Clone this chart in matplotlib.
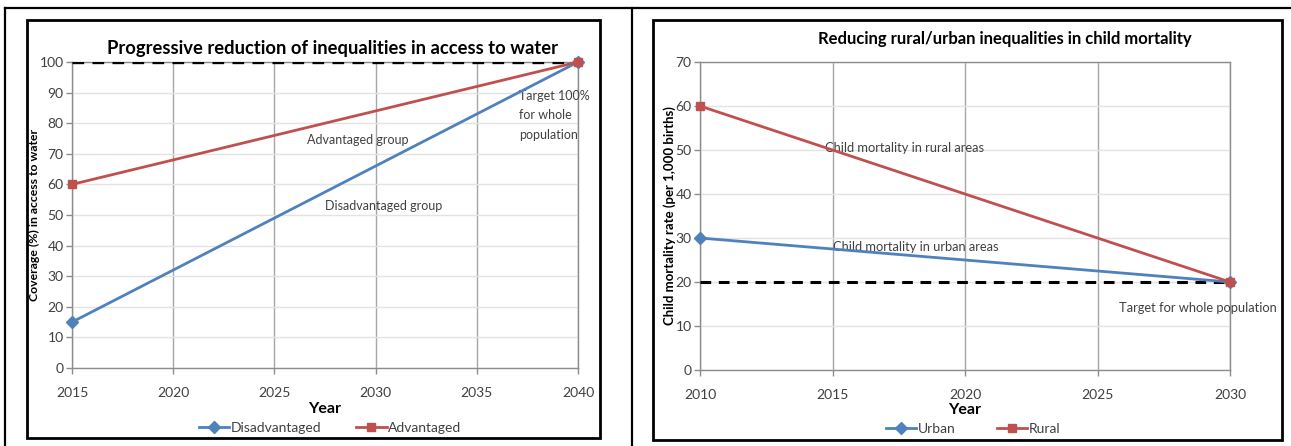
import matplotlib.pyplot as plt
from matplotlib.lines import Line2D
from matplotlib.patches import Rectangle
import numpy as np

plt.rcParams['font.family'] = ['Lato', 'DejaVu Sans']

# Left chart data
water_years = [2015, 2040]
disadvantaged = [15, 100]
advantaged = [60, 100]
water_target = 100
water_xticks = [2015, 2020, 2025, 2030, 2035, 2040]

# Right chart data
mort_years = [2010, 2030]
urban = [30, 20]
rural = [60, 20]
mort_target = 20
mort_xticks = [2010, 2015, 2020, 2025, 2030]

BLUE = '#4F81BD'
RED = '#C0504D'
W, H = 1291, 446

fig = plt.figure(figsize=(W / 100, H / 100), dpi=100)


def px_axes(x0, y0, x1, y1):
    # pixel box (top-left origin) -> figure axes
    return fig.add_axes([x0 / W, 1 - y1 / H, (x1 - x0) / W, (y1 - y0) / H])


def fig_line(xs, ys, lw=1.6):
    fig.add_artist(Line2D([x / W for x in xs], [1 - y / H for y in ys],
                          color='black', lw=lw, transform=fig.transFigure))


def fig_box(x0, y0, x1, y1, lw=2.0):
    fig.add_artist(Rectangle((x0 / W, 1 - y1 / H), (x1 - x0) / W, (y1 - y0) / H,
                             fill=False, ec='black', lw=lw,
                             transform=fig.transFigure))


# outer table lines
fig_line([5, 1291], [8, 8])
fig_line([5, 5], [8, 446])
fig_line([632, 632], [8, 446])

# inner chart boxes
fig_box(27, 20, 600, 438)
fig_box(653, 20, 1282, 440)


def style_axes(ax, xticks, ymax):
    ax.set_xlim(xticks[0], xticks[-1])
    ax.set_ylim(0, ymax)
    ax.set_xticks(xticks)
    ax.set_yticks(np.arange(0, ymax + 1, 10))
    ax.grid(axis='y', color='#e3e3e3', lw=1.0)
    ax.grid(axis='x', color='#a6a6a6', lw=1.0)
    ax.set_axisbelow(True)
    for s in ax.spines.values():
        s.set_color('#8c8c8c')
        s.set_linewidth(1.0)
    ax.tick_params(axis='both', colors='#8c8c8c', labelcolor='#404040',
                   labelsize=10, length=4, width=1.0, direction='out')
    ax.tick_params(axis='x', pad=10)
    ax.tick_params(axis='y', pad=2)


# ---- left chart ----
ax1 = px_axes(72, 62, 578, 368)
style_axes(ax1, water_xticks, 100)
ax1.axhline(water_target, color='black', lw=2.4, ls=(0, (3.5, 2.5)), zorder=3)
ax1.plot(water_years, disadvantaged, color=BLUE, lw=2.0, marker='D', ms=6,
         label='Disadvantaged', zorder=4, clip_on=False)
ax1.plot(water_years, advantaged, color=RED, lw=2.0, marker='s', ms=6,
         label='Advantaged', zorder=5, clip_on=False)
ax1.set_title('Progressive reduction of inequalities in access to water',
              fontsize=13.2, fontweight='bold', pad=6, x=0.514)
ax1.set_xlabel('Year', fontsize=11.5, fontweight='bold', labelpad=2)
ax1.set_ylabel('Coverage (%) in access to water', fontsize=8.8, fontweight='bold',
               labelpad=0)
ax1.text(2029.1, 74.5, 'Advantaged group', fontsize=9, color='#404040',
         ha='center', va='center')
ax1.text(2030.4, 53, 'Disadvantaged group', fontsize=9, color='#404040',
         ha='center', va='center')
ax1.text(2037.1, 91, 'Target 100%\nfor whole\npopulation', fontsize=9,
         color='#404040', ha='left', va='top', linespacing=1.75)
ax1.legend(loc='center', bbox_to_anchor=(330 / W, 1 - 428 / H),
           bbox_transform=fig.transFigure, ncol=2, frameon=False,
           fontsize=10, handlelength=2.2, handletextpad=0.1, columnspacing=2.5,
           labelcolor='#404040')

# ---- right chart ----
ax2 = px_axes(700, 62, 1230, 370)
style_axes(ax2, mort_xticks, 70)
ax2.axhline(mort_target, color='black', lw=2.2, ls=(0, (3.5, 2.5)), zorder=3)
ax2.plot(mort_years, urban, color=BLUE, lw=2.0, marker='D', ms=6,
         label='Urban', zorder=4, clip_on=False)
ax2.plot(mort_years, rural, color=RED, lw=2.0, marker='s', ms=6,
         label='Rural', zorder=5, clip_on=False)
ax2.set_title('Reducing rural/urban inequalities in child mortality',
              fontsize=12, fontweight='bold', pad=13, x=0.575)
ax2.set_xlabel('Year', fontsize=11.5, fontweight='bold', labelpad=1)
ax2.set_ylabel('Child mortality rate (per 1,000 births)', fontsize=9.5,
               fontweight='bold', labelpad=0)
ax2.text(2014.7, 50.5, 'Child mortality in rural areas', fontsize=9.3,
         color='#404040', ha='left', va='center')
ax2.text(2015.0, 28.0, 'Child mortality in urban areas', fontsize=9.3,
         color='#404040', ha='left', va='center')
ax2.text(2025.8, 14.0, 'Target for whole population', fontsize=9.3,
         color='#404040', ha='left', va='center')
ax2.legend(loc='center', bbox_to_anchor=(973 / W, 1 - 429 / H),
           bbox_transform=fig.transFigure, ncol=2, frameon=False,
           fontsize=10, handlelength=2.2, handletextpad=0.1, columnspacing=3.0,
           labelcolor='#404040')

fig.savefig('out.png', dpi=100)
